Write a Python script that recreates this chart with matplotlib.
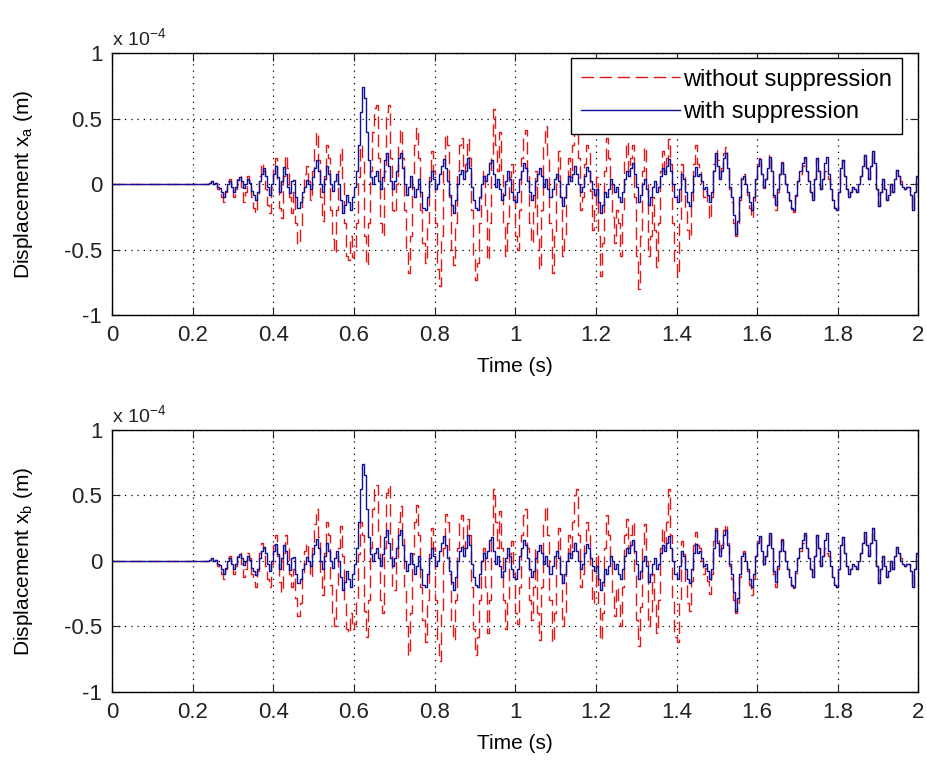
import matplotlib
matplotlib.use('Agg')

import matplotlib.pyplot as plt
import numpy as np

plt.rcParams['font.family'] = ['Liberation Sans', 'DejaVu Sans']
plt.rcParams['mathtext.fontset'] = 'custom'
plt.rcParams['mathtext.rm'] = 'Liberation Sans'
plt.rcParams['mathtext.it'] = 'Liberation Sans:italic'

# displacement in units of 1e-4 m, sampled every 0.005 s from t = 0.2 s to 2.0 s
xa_without = [
    0, 0, 0, 0, 0, 0, 0, 0, 0.01, 0.02, 0.00, 0.01, -0.04, -0.06, -0.10, -0.14, -0.06, 0.02, 0.04, -0.04,
    -0.10, -0.04, 0.04, 0.06, -0.02, -0.14, -0.06, 0.06, 0.02, -0.10, -0.18, -0.22, -0.08, 0.06, 0.16, 0.10, -0.04, -0.16, -0.22, -0.02,
    0.14, 0.20, 0.04, -0.18, -0.26, 0.06, 0.22, 0.12, -0.10, -0.22, -0.06, -0.30, -0.46, -0.34, -0.10, 0.08, 0.14, 0.02, -0.12, 0.10,
    0.30, 0.40, 0.18, -0.10, -0.28, 0.06, 0.30, 0.20, -0.20, -0.42, -0.53, -0.20, 0.10, 0.27, 0.04, -0.30, -0.55, -0.58, -0.40, -0.56,
    -0.50, -0.30, 0.05, 0.30, 0.20, -0.40, -0.62, -0.30, 0.10, 0.40, 0.58, 0.60, 0.20, -0.30, -0.40, 0.10, 0.55, 0.60, 0.20, -0.20,
    -0.22, 0.00, 0.30, 0.42, 0.20, -0.20, -0.50, -0.68, -0.40, 0.05, 0.30, 0.43, 0.20, -0.20, -0.45, -0.60, -0.30, 0.05, 0.25, 0.10,
    -0.30, -0.65, -0.78, -0.40, 0.10, 0.38, 0.30, -0.10, -0.50, -0.62, -0.30, 0.10, 0.30, 0.35, 0.10, 0.15, 0.34, 0.20, -0.20, -0.55,
    -0.73, -0.60, -0.30, 0.00, 0.10, -0.20, -0.58, -0.30, 0.20, 0.57, 0.30, 0.10, 0.40, 0.10, -0.30, -0.55, -0.30, 0.05, 0.15, -0.10,
    -0.40, -0.50, -0.20, 0.20, 0.35, 0.41, 0.10, -0.30, -0.45, -0.20, 0.10, -0.40, -0.65, -0.20, 0.30, 0.44, 0.20, -0.30, -0.68, -0.40,
    0.05, 0.25, -0.10, -0.55, -0.40, 0.00, 0.20, 0.05, 0.30, 0.50, 0.57, 0.20, -0.20, -0.10, 0.15, 0.30, 0.24, -0.05, -0.35, -0.20,
    0.05, -0.40, -0.70, -0.45, 0.10, 0.35, 0.20, 0.00, -0.25, -0.45, -0.20, -0.30, -0.55, -0.20, 0.20, 0.32, 0.10, 0.20, 0.30, -0.10,
    -0.55, -0.80, -0.40, 0.10, 0.28, 0.00, -0.55, -0.40, -0.10, -0.35, -0.63, -0.30, 0.10, 0.25, 0.10, 0.20, 0.34, 0.15, -0.30, -0.60,
    -0.70, -0.30, 0.15, 0.05, -0.20, -0.35, -0.42, -0.15, 0.15, 0.30, 0.15, 0.10, 0.00, -0.10, -0.05, -0.15, -0.27, -0.10, 0.15, 0.26,
    0.18, 0.05, 0.12, 0.24, 0.28, 0.14, -0.04, -0.14, -0.30, -0.40, -0.32, -0.12, 0.05, 0.08, 0.00, -0.08, -0.18, -0.26, -0.14, 0.04,
    0.15, 0.20, 0.08, -0.03, 0.04, 0.12, 0.22, 0.10, -0.10, -0.20, -0.06, 0.08, 0.17, 0.08, 0.00, -0.06, -0.13, -0.19, -0.21, -0.09,
    0.02, 0.08, 0.14, 0.20, 0.10, 0.02, -0.06, -0.12, 0.04, 0.20, 0.10, -0.04, 0.04, 0.10, 0.06, 0.04, -0.04, -0.12, -0.18, -0.20,
    -0.06, 0.12, 0.18, 0.06, -0.04, -0.10, -0.06, -0.02, -0.04, -0.06, 0.00, 0.06, 0.14, 0.22, 0.12, 0.04, 0.14, 0.25, 0.16, -0.04,
    -0.17, -0.06, 0.04, -0.04, -0.12, -0.08, 0.00, -0.06, 0.04, 0.11, 0.06, 0.02, -0.02, -0.04, -0.02, -0.02, -0.08, -0.20, -0.06, 0.06,
    0.04]

xa_with = [
    0, 0, 0, 0, 0, 0, 0, 0, 0.01, 0.02, 0.00, 0.01, -0.02, -0.03, -0.06, -0.10, -0.05, 0.00, 0.02, -0.02,
    -0.06, -0.02, 0.03, 0.05, 0.02, -0.03, 0.00, 0.04, 0.01, -0.05, -0.08, -0.12, -0.06, 0.02, 0.08, 0.12, 0.06, -0.02, -0.08, 0.00,
    0.08, 0.14, 0.05, -0.06, 0.02, 0.13, 0.08, -0.02, -0.07, 0.02, 0.03, -0.10, -0.18, -0.14, -0.06, -0.02, 0.03, 0.00, -0.04, 0.05,
    0.12, 0.18, 0.10, 0.00, -0.06, 0.04, 0.14, 0.08, 0.00, -0.05, 0.02, 0.08, 0.00, -0.12, -0.22, -0.16, -0.08, -0.14, -0.20, -0.10,
    -0.02, 0.10, 0.30, 0.55, 0.74, 0.66, 0.40, 0.18, 0.05, 0.00, 0.06, 0.10, 0.02, -0.04, 0.05, 0.18, 0.24, 0.14, 0.02, -0.04,
    0.02, 0.10, 0.20, 0.24, 0.12, 0.00, -0.08, -0.02, 0.06, -0.02, -0.10, -0.04, 0.04, -0.06, -0.18, -0.20, -0.10, 0.02, 0.10, 0.04,
    -0.04, 0.00, 0.08, 0.14, 0.19, 0.12, 0.02, -0.08, -0.16, -0.22, -0.12, 0.00, 0.08, 0.11, 0.04, 0.10, 0.20, 0.12, -0.02, -0.12,
    -0.18, -0.20, -0.10, 0.00, 0.06, 0.02, 0.08, 0.16, 0.18, 0.08, -0.02, 0.04, -0.04, -0.12, -0.08, 0.02, 0.10, 0.04, -0.06, -0.12,
    -0.14, -0.06, 0.04, 0.10, 0.16, 0.12, 0.02, -0.06, -0.12, -0.08, 0.02, 0.08, 0.12, 0.06, -0.02, 0.04, -0.04, -0.10, -0.04, 0.04,
    0.08, 0.02, -0.10, -0.17, -0.10, 0.00, 0.06, 0.02, 0.08, 0.14, 0.08, 0.00, -0.06, -0.02, 0.06, 0.13, 0.10, 0.02, -0.04, -0.08,
    -0.04, -0.14, -0.22, -0.16, -0.06, -0.10, -0.04, 0.04, 0.00, -0.06, -0.02, -0.10, -0.14, -0.06, 0.04, 0.10, 0.06, 0.12, 0.16, 0.08,
    -0.02, -0.14, -0.08, 0.00, 0.04, -0.04, -0.16, -0.10, -0.02, 0.02, -0.06, -0.02, 0.06, 0.12, 0.08, 0.14, 0.19, 0.10, 0.00, -0.10,
    -0.14, -0.04, 0.08, 0.04, -0.06, -0.14, -0.17, -0.06, 0.06, 0.13, 0.06, 0.08, 0.02, -0.04, -0.02, -0.08, -0.14, -0.06, 0.10, 0.24,
    0.14, 0.04, 0.10, 0.20, 0.24, 0.12, -0.02, -0.10, -0.24, -0.38, -0.28, -0.10, 0.04, 0.06, 0.00, -0.06, -0.14, -0.20, -0.10, 0.04,
    0.14, 0.19, 0.08, -0.02, 0.04, 0.12, 0.21, 0.10, -0.08, -0.16, -0.04, 0.08, 0.16, 0.08, 0.00, -0.06, -0.12, -0.18, -0.20, -0.08,
    0.02, 0.10, 0.16, 0.21, 0.10, 0.02, -0.06, -0.12, 0.04, 0.20, 0.10, -0.04, 0.04, 0.16, 0.21, 0.08, -0.04, -0.12, -0.18, -0.20,
    -0.06, 0.12, 0.18, 0.06, -0.04, -0.10, -0.06, -0.02, -0.04, -0.06, 0.00, 0.06, 0.14, 0.22, 0.12, 0.04, 0.14, 0.25, 0.16, -0.04,
    -0.17, -0.06, 0.04, -0.04, -0.12, -0.08, 0.00, -0.06, 0.04, 0.11, 0.06, 0.00, -0.02, -0.04, -0.02, -0.02, -0.08, -0.20, -0.06, 0.06,
    0.04]

xb_without = [
    0, 0, 0, 0, 0, 0, 0, 0, 0.01, 0.02, 0.00, 0.01, -0.04, -0.06, -0.10, -0.14, -0.06, 0.02, 0.04, -0.04,
    -0.10, -0.04, 0.04, 0.06, -0.02, -0.12, -0.06, 0.06, 0.02, -0.10, -0.16, -0.20, -0.08, 0.06, 0.14, 0.10, -0.04, -0.14, -0.20, -0.02,
    0.12, 0.20, 0.04, -0.16, -0.24, 0.06, 0.20, 0.12, -0.10, -0.20, -0.06, -0.28, -0.42, -0.32, -0.10, 0.08, 0.14, 0.02, -0.12, 0.10,
    0.28, 0.40, 0.18, -0.10, -0.26, 0.06, 0.30, 0.20, -0.18, -0.40, -0.50, -0.20, 0.10, 0.27, 0.04, -0.30, -0.52, -0.55, -0.40, -0.52,
    -0.48, -0.30, 0.05, 0.30, 0.20, -0.38, -0.58, -0.30, 0.10, 0.40, 0.55, 0.58, 0.20, -0.30, -0.40, 0.10, 0.52, 0.58, 0.20, -0.20,
    -0.22, 0.00, 0.30, 0.42, 0.20, -0.20, -0.50, -0.72, -0.40, 0.05, 0.30, 0.43, 0.20, -0.20, -0.45, -0.62, -0.30, 0.05, 0.25, 0.10,
    -0.30, -0.62, -0.76, -0.40, 0.10, 0.36, 0.30, -0.10, -0.48, -0.60, -0.30, 0.10, 0.30, 0.35, 0.10, 0.15, 0.32, 0.20, -0.20, -0.52,
    -0.72, -0.58, -0.30, 0.00, 0.10, -0.20, -0.55, -0.30, 0.20, 0.55, 0.30, 0.10, 0.38, 0.10, -0.30, -0.52, -0.30, 0.05, 0.15, -0.10,
    -0.40, -0.48, -0.20, 0.20, 0.35, 0.40, 0.10, -0.30, -0.45, -0.20, 0.10, -0.40, -0.60, -0.20, 0.30, 0.42, 0.20, -0.30, -0.62, -0.40,
    0.05, 0.25, -0.10, -0.50, -0.40, 0.00, 0.20, 0.05, 0.30, 0.50, 0.55, 0.20, -0.20, -0.10, 0.15, 0.30, 0.24, -0.05, -0.32, -0.20,
    0.05, -0.35, -0.60, -0.40, 0.10, 0.35, 0.20, 0.00, -0.25, -0.42, -0.20, -0.30, -0.50, -0.20, 0.20, 0.32, 0.10, 0.20, 0.30, -0.10,
    -0.45, -0.65, -0.35, 0.10, 0.28, 0.00, -0.50, -0.40, -0.10, -0.30, -0.55, -0.30, 0.10, 0.25, 0.10, 0.30, 0.55, 0.20, -0.30, -0.58,
    -0.62, -0.30, 0.15, 0.05, -0.18, -0.32, -0.38, -0.15, 0.12, 0.22, 0.12, 0.10, 0.00, -0.10, -0.05, -0.15, -0.25, -0.10, 0.15, 0.25,
    0.18, 0.05, 0.12, 0.24, 0.28, 0.14, -0.04, -0.14, -0.30, -0.40, -0.32, -0.12, 0.05, 0.08, 0.00, -0.08, -0.18, -0.26, -0.14, 0.04,
    0.15, 0.20, 0.08, -0.03, 0.04, 0.12, 0.22, 0.10, -0.10, -0.20, -0.06, 0.08, 0.17, 0.08, 0.00, -0.06, -0.13, -0.19, -0.21, -0.09,
    0.02, 0.08, 0.14, 0.20, 0.10, 0.02, -0.06, -0.12, 0.04, 0.20, 0.10, -0.04, 0.04, 0.10, 0.06, 0.04, -0.04, -0.12, -0.18, -0.20,
    -0.06, 0.12, 0.18, 0.06, -0.04, -0.10, -0.06, -0.02, -0.04, -0.06, 0.00, 0.06, 0.14, 0.22, 0.12, 0.04, 0.14, 0.25, 0.16, -0.04,
    -0.17, -0.06, 0.04, -0.04, -0.12, -0.08, 0.00, -0.06, 0.04, 0.11, 0.06, 0.02, -0.02, -0.04, -0.02, -0.02, -0.08, -0.20, -0.06, 0.06,
    0.04]

xb_with = [
    0, 0, 0, 0, 0, 0, 0, 0, 0.01, 0.02, 0.00, 0.01, -0.02, -0.03, -0.06, -0.10, -0.05, 0.00, 0.02, -0.02,
    -0.06, -0.02, 0.03, 0.05, 0.02, -0.03, 0.00, 0.04, 0.01, -0.05, -0.08, -0.11, -0.06, 0.02, 0.08, 0.11, 0.06, -0.02, -0.08, 0.00,
    0.08, 0.13, 0.05, -0.06, 0.02, 0.12, 0.08, -0.02, -0.07, 0.02, 0.03, -0.10, -0.17, -0.14, -0.06, -0.02, 0.03, 0.00, -0.04, 0.05,
    0.12, 0.17, 0.10, 0.00, -0.06, 0.04, 0.14, 0.08, 0.00, -0.05, 0.02, 0.08, 0.00, -0.12, -0.22, -0.16, -0.08, -0.14, -0.20, -0.10,
    -0.02, 0.10, 0.30, 0.55, 0.74, 0.66, 0.40, 0.18, 0.05, 0.00, 0.06, 0.10, 0.02, -0.04, 0.05, 0.18, 0.24, 0.14, 0.02, -0.04,
    0.02, 0.10, 0.20, 0.24, 0.12, 0.00, -0.08, -0.02, 0.06, -0.02, -0.10, -0.04, 0.04, -0.06, -0.18, -0.20, -0.10, 0.02, 0.10, 0.04,
    -0.04, 0.00, 0.08, 0.14, 0.19, 0.12, 0.02, -0.08, -0.16, -0.22, -0.12, 0.00, 0.08, 0.11, 0.04, 0.10, 0.20, 0.12, -0.02, -0.12,
    -0.18, -0.20, -0.10, 0.00, 0.06, 0.02, 0.08, 0.16, 0.18, 0.08, -0.02, 0.04, -0.04, -0.12, -0.08, 0.02, 0.10, 0.04, -0.06, -0.12,
    -0.14, -0.06, 0.04, 0.10, 0.16, 0.12, 0.02, -0.06, -0.12, -0.08, 0.02, 0.08, 0.12, 0.06, -0.02, 0.04, -0.04, -0.10, -0.04, 0.04,
    0.08, 0.02, -0.10, -0.17, -0.10, 0.00, 0.06, 0.02, 0.08, 0.14, 0.08, 0.00, -0.06, -0.02, 0.06, 0.13, 0.10, 0.02, -0.04, -0.08,
    -0.04, -0.14, -0.22, -0.16, -0.06, -0.10, -0.04, 0.04, 0.00, -0.06, -0.02, -0.10, -0.14, -0.06, 0.04, 0.10, 0.06, 0.12, 0.16, 0.08,
    -0.02, -0.14, -0.08, 0.00, 0.04, -0.04, -0.16, -0.10, -0.02, 0.02, -0.06, -0.02, 0.06, 0.12, 0.08, 0.14, 0.19, 0.10, 0.00, -0.10,
    -0.14, -0.04, 0.08, 0.04, -0.06, -0.14, -0.17, -0.06, 0.06, 0.13, 0.06, 0.08, 0.02, -0.04, -0.02, -0.08, -0.14, -0.06, 0.10, 0.24,
    0.14, 0.04, 0.10, 0.20, 0.24, 0.12, -0.02, -0.10, -0.24, -0.38, -0.28, -0.10, 0.04, 0.06, 0.00, -0.06, -0.14, -0.20, -0.10, 0.04,
    0.14, 0.19, 0.08, -0.02, 0.04, 0.12, 0.21, 0.10, -0.08, -0.16, -0.04, 0.08, 0.16, 0.08, 0.00, -0.06, -0.12, -0.18, -0.20, -0.08,
    0.02, 0.10, 0.16, 0.21, 0.10, 0.02, -0.06, -0.12, 0.04, 0.20, 0.10, -0.04, 0.04, 0.16, 0.21, 0.08, -0.04, -0.12, -0.18, -0.20,
    -0.06, 0.12, 0.18, 0.06, -0.04, -0.10, -0.06, -0.02, -0.04, -0.06, 0.00, 0.06, 0.14, 0.22, 0.12, 0.04, 0.14, 0.25, 0.16, -0.04,
    -0.17, -0.06, 0.04, -0.04, -0.12, -0.08, 0.00, -0.06, 0.04, 0.11, 0.06, 0.00, -0.02, -0.04, -0.02, -0.02, -0.08, -0.20, -0.06, 0.06,
    0.04]

xticks = [0, 0.2, 0.4, 0.6, 0.8, 1, 1.2, 1.4, 1.6, 1.8, 2]
xticklabels = ['0', '0.2', '0.4', '0.6', '0.8', '1', '1.2', '1.4', '1.6', '1.8', '2']
yticks = [-1, -0.5, 0, 0.5, 1]
yticklabels = ['-1', '-0.5', '0', '0.5', '1']


def series(vals):
    # signal is zero before 0.2 s
    t = np.concatenate([[0.0], np.linspace(0.2, 2.0, len(vals))])
    y = np.concatenate([[0.0], vals])
    return t, y


fig = plt.figure(figsize=(9.28, 7.62), dpi=100)
ax1 = fig.add_axes([0.1207, 0.5866, 0.869, 0.3438])
ax2 = fig.add_axes([0.1207, 0.0919, 0.869, 0.3438])

panels = [(ax1, xa_without, xa_with, 'a'), (ax2, xb_without, xb_with, 'b')]
for ax, red, blue, sub in panels:
    t, y = series(red)
    ax.plot(t, y, color='#e01818', ls=(0, (9, 4)), lw=1.0, drawstyle='steps-post',
            label='without suppression')
    t, y = series(blue)
    ax.plot(t, y, color='#10109a', lw=1.0, drawstyle='steps-post', label='with suppression')

    ax.set_xlim(0, 2)
    ax.set_ylim(-1, 1)
    ax.set_xticks(xticks)
    ax.set_xticklabels(xticklabels)
    ax.set_yticks(yticks)
    ax.set_yticklabels(yticklabels)
    ax.grid(True, color='black', ls=(0, (1, 4)), lw=0.9)
    ax.tick_params(direction='in', length=6, width=0.8, top=True, right=True,
                   labelsize=16, pad=7, colors='#222222')
    for s in ax.spines.values():
        s.set_linewidth(1.0)
    ax.set_xlabel('Time (s)', fontsize=15)
    ax.xaxis.set_label_coords(0.5, -0.16)
    ax.set_ylabel('Displacement x$_\\mathrm{' + sub + '}$ (m)', fontsize=15)
    ax.yaxis.set_label_coords(-0.095, 0.5)
    ax.text(0.0, 1.015, 'x 10$^{-4}$', transform=ax.transAxes, fontsize=14,
            ha='left', va='bottom', color='#222222')

leg = ax1.legend(loc='upper right', bbox_to_anchor=(0.98, 0.981), fontsize=17,
                 fancybox=False, edgecolor='black', framealpha=1, borderaxespad=0,
                 handlelength=4.2, handletextpad=0.1, borderpad=0.45, labelspacing=0.45)
leg.get_frame().set_linewidth(1.0)

plt.savefig('out.png', dpi=100)
